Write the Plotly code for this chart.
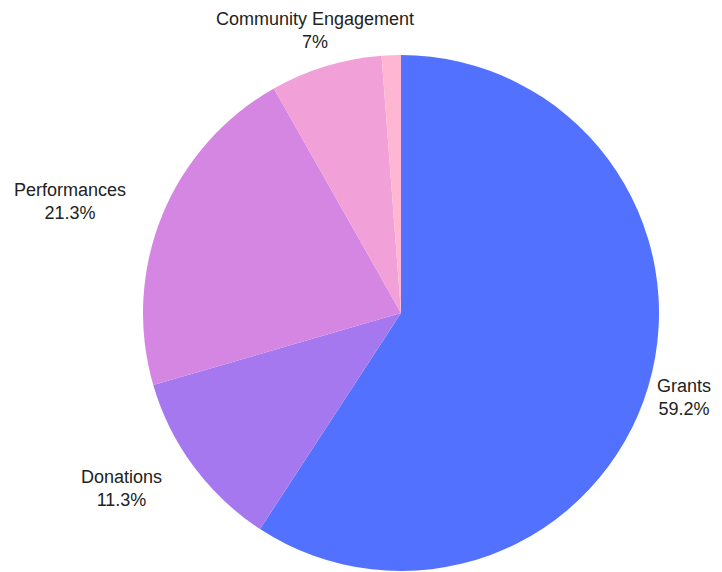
import math
import plotly.graph_objects as go

labels = ["Grants", "Donations", "Performances", "Community Engagement", "Other"]
values = [59.2, 11.3, 21.3, 7.0, 1.2]
show_label = [True, True, True, True, False]

colors = ["#5271ff", "#a678f0", "#d586e3", "#f2a0d8", "#ffb6d2"]
label_anchor = ["center", "right", "right", "center", "center"]

W, H = 722, 572
CX, CY, R = 393, 305, 258          # pie centre / radius in px (layout)
LABEL_R = 1.143                     # label distance in pie radii

fig = go.Figure()
fig.add_trace(go.Pie(
    labels=labels,
    values=values,
    sort=False,
    direction="clockwise",
    rotation=0,
    marker=dict(colors=colors, line=dict(width=0)),
    textposition="none",
    hoverinfo="label+percent",
    showlegend=False,
    domain=dict(x=[(CX - R) / W, (CX + R) / W],
                y=[(H - CY - R) / H, (H - CY + R) / H]),
))
# invisible cartesian frame aligned with the pie (1 unit = pie radius)
fig.add_trace(go.Scatter(x=[], y=[], showlegend=False, hoverinfo="skip"))

total = sum(values)
cum = 0.0
for lab, v, show, anc in zip(labels, values, show_label, label_anchor):
    mid = (cum + v / 2) / total
    cum += v
    if not show:
        continue
    theta = 2 * math.pi * mid
    pct = f"{v / total * 100:.3g}%"
    fig.add_annotation(
        x=LABEL_R * math.sin(theta), y=LABEL_R * math.cos(theta),
        xref="x", yref="y",
        text=f"{lab}<br>{pct}",
        showarrow=False, xanchor=anc, yanchor="middle", align="center",
        font=dict(family="Liberation Sans, Arial", size=18, color="#222222"),
    )

fig.update_layout(
    width=W, height=H,
    margin=dict(l=0, r=0, t=0, b=0),
    paper_bgcolor="white",
    plot_bgcolor="rgba(0,0,0,0)",
    font=dict(family="Liberation Sans, Arial", size=18, color="#222222"),
    xaxis=dict(visible=False, domain=[0, 1], range=[-CX / R, (W - CX) / R], fixedrange=True),
    yaxis=dict(visible=False, domain=[0, 1], range=[-(H - CY) / R, CY / R], fixedrange=True),
)
fig.write_html("out.html")
